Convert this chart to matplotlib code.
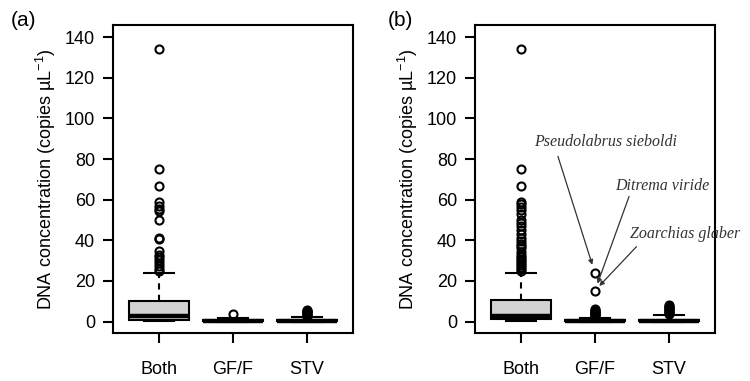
import matplotlib as mpl
import matplotlib.pyplot as plt

mpl.rcParams.update({
    "font.family": ["Liberation Sans", "DejaVu Sans"],
    "font.size": 13,
    "mathtext.fontset": "custom",
    "mathtext.rm": "Liberation Sans",
    "mathtext.it": "Liberation Sans:italic",
    "axes.linewidth": 1.5,
})

CATS = ["Both", "GF/F", "STV"]

# panel (a): box statistics
A_MED = [2.8, 0.5, 0.5]
A_Q1 = [0.8, 0.2, 0.2]
A_Q3 = [10.3, 1.0, 1.0]
A_WLO = [0.1, 0.0, 0.0]
A_WHI = [23.8, 2.0, 2.2]
A_FLIERS = [
    [134, 75, 67, 59, 57, 55.5, 54.5, 50, 41, 40.5, 35, 33, 32, 30.5,
     29, 27.5, 26, 25],
    [3.7],
    [2.6, 3.0, 3.4, 3.8, 4.2, 4.6, 5.0, 5.4, 5.8],
]

# panel (b)
B_MED = [3.0, 0.5, 0.5]
B_Q1 = [1.2, 0.2, 0.2]
B_Q3 = [10.7, 1.0, 1.0]
B_WLO = [0.3, 0.0, 0.0]
B_WHI = [24.1, 2.0, 3.3]
B_FLIERS = [
    [134, 75, 67, 59, 58, 56.5, 55, 53, 50, 48.5, 47, 45, 43, 41, 39.5,
     38, 37, 36, 34.5, 33, 32, 31, 30, 29, 28, 27, 26, 25],
    [2.4, 2.8, 3.2, 3.6, 4.0, 4.4, 4.8, 5.2, 5.6, 6.2, 15.3, 23.8],
    [3.8, 4.3, 4.8, 5.3, 5.8, 6.3, 6.8, 7.3, 7.8, 8.3],
]

# labelled outliers in panel (b)
SPECIES = ["Pseudolabrus sieboldi", "Ditrema viride", "Zoarchias glaber"]
SPECIES_VAL = [23.8, 15.3, 15.3]
TEXT_POS = [(2.14, 88.2), (2.91, 67.0), (3.21, 43.0)]
ARROW_FROM = [(1.50, 81.3), (2.46, 61.6), (2.56, 36.9)]
ARROW_SHRINK = [6.4, 5.3, 4.5]

YTICKS = [0, 20, 40, 60, 80, 100, 120, 140]
YLABEL = r"DNA concentration (copies µL$^{-1}$)"


def draw(ax, med, q1, q3, wlo, whi, fliers):
    stats = []
    for i in range(len(CATS)):
        stats.append(dict(med=med[i], q1=q1[i], q3=q3[i], whislo=wlo[i],
                          whishi=whi[i], fliers=fliers[i], label=CATS[i]))
    ax.bxp(stats, positions=[1, 2, 3], widths=0.8, capwidths=0.4,
           patch_artist=True, showfliers=True,
           boxprops=dict(facecolor="#D3D3D3", edgecolor="black", lw=1.5),
           medianprops=dict(color="black", lw=3.2, solid_capstyle="butt"),
           whiskerprops=dict(color="black", lw=1.5, ls=(0, (3, 2.5))),
           capprops=dict(color="black", lw=1.5),
           flierprops=dict(marker="o", markerfacecolor="none",
                           markeredgecolor="black", markersize=5.8,
                           markeredgewidth=1.5))
    ax.set_xlim(0.38, 3.62)
    ax.set_ylim(-5.6, 146.0)
    ax.set_yticks(YTICKS)
    ax.set_xticks([1, 2, 3])
    ax.set_xticklabels(CATS)
    ax.tick_params(axis="x", length=7, width=1.5, pad=13, labelsize=13)
    ax.tick_params(axis="y", length=7, width=1.5, pad=6, labelsize=13)
    ax.set_ylabel(YLABEL, fontsize=13, labelpad=5)


fig = plt.figure(figsize=(7.5, 3.81), dpi=100)
ax1 = fig.add_axes([113 / 750, 48 / 381, 240 / 750, 308 / 381])
ax2 = fig.add_axes([475 / 750, 48 / 381, 240 / 750, 308 / 381])

draw(ax1, A_MED, A_Q1, A_Q3, A_WLO, A_WHI, A_FLIERS)
draw(ax2, B_MED, B_Q1, B_Q3, B_WLO, B_WHI, B_FLIERS)

fig.text(23 / 750, 1 - 20 / 381, "(a)", ha="center", va="center", fontsize=15)
fig.text(400 / 750, 1 - 20 / 381, "(b)", ha="center", va="center", fontsize=15)

for name, val, tpos, src, shr in zip(SPECIES, SPECIES_VAL, TEXT_POS,
                                     ARROW_FROM, ARROW_SHRINK):
    ax2.text(tpos[0], tpos[1], name, ha="center", va="center",
             family="Liberation Serif", style="italic", fontsize=11.5,
             color="#333333", clip_on=False)
    ax2.annotate("", xy=(2, val), xytext=src,
                 arrowprops=dict(arrowstyle="-|>", color="#333333", lw=0.9,
                                 mutation_scale=7, shrinkA=0, shrinkB=shr))

fig.savefig("out.png", dpi=100)
